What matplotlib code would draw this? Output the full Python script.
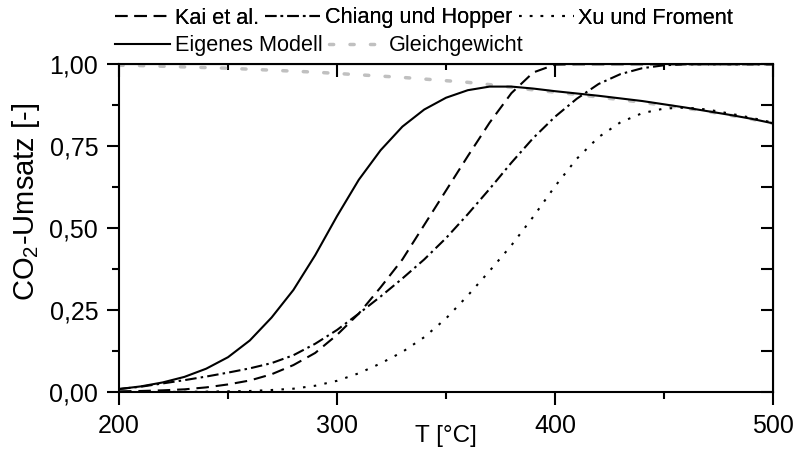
import numpy as np
import matplotlib
matplotlib.use("Agg")
import matplotlib.pyplot as plt

plt.rcParams['font.family'] = ['Liberation Sans', 'DejaVu Sans']
plt.rcParams['mathtext.fontset'] = 'custom'
plt.rcParams['mathtext.rm'] = 'Liberation Sans'

# data (T in degC, conversion 0..1)
T = [200, 210, 220, 230, 240, 250, 260, 270, 280, 290, 300, 310, 320, 330, 340,
     350, 360, 370, 380, 390, 400, 410, 420, 430, 440, 450, 460, 470, 480, 490, 500]

kai = [0.003, 0.004, 0.006, 0.009, 0.015, 0.024, 0.036, 0.055, 0.083, 0.12, 0.175,
       0.24, 0.32, 0.405, 0.51, 0.615, 0.72, 0.822, 0.912, 0.975, 0.999, 1.0, 1.0,
       1.0, 1.0, 1.0, 1.0, 1.0, 1.0, 1.0, 1.0]
chiang = [0.01, 0.017, 0.027, 0.037, 0.048, 0.06, 0.073, 0.089, 0.113, 0.148, 0.19,
          0.24, 0.292, 0.347, 0.405, 0.47, 0.543, 0.62, 0.70, 0.775, 0.84, 0.895,
          0.94, 0.97, 0.988, 0.997, 1.0, 1.0, 1.0, 1.0, 1.0]
xu = [0.0, 0.0005, 0.001, 0.0015, 0.002, 0.003, 0.004, 0.007, 0.011, 0.02, 0.035,
      0.058, 0.088, 0.123, 0.168, 0.225, 0.295, 0.37, 0.448, 0.535, 0.628, 0.712,
      0.778, 0.823, 0.851, 0.865, 0.868, 0.862, 0.85, 0.837, 0.822]
eigen = [0.01, 0.018, 0.03, 0.047, 0.072, 0.107, 0.158, 0.228, 0.312, 0.418, 0.537,
         0.648, 0.738, 0.81, 0.862, 0.898, 0.921, 0.932, 0.932, 0.926, 0.918, 0.911,
         0.904, 0.896, 0.888, 0.878, 0.868, 0.857, 0.846, 0.834, 0.82]
gleich = [0.997, 0.996, 0.994, 0.992, 0.99, 0.988, 0.985, 0.982, 0.979, 0.976, 0.972,
          0.968, 0.964, 0.96, 0.955, 0.95, 0.945, 0.938, 0.93, 0.922, 0.915, 0.908,
          0.9, 0.892, 0.884, 0.875, 0.866, 0.856, 0.845, 0.833, 0.82]

xticks = [200, 300, 400, 500]
xticklabels = ['200', '300', '400', '500']
yticks = [0.0, 0.25, 0.5, 0.75, 1.0]
yticklabels = ['0,00', '0,25', '0,50', '0,75', '1,00']

fig = plt.figure(figsize=(7.96, 4.54), dpi=100)
ax = fig.add_axes([0.1495, 0.1359, 0.8216, 0.7225])

gl, = ax.plot(T, gleich, color='#c0c0c0', lw=2.5, linestyle=(0, (1.2, 4.7)),
              dash_capstyle='round', label='Gleichgewicht')
k, = ax.plot(T, kai, color='black', lw=1.5, linestyle=(0, (6, 3.3)), label='Kai et al.')
c, = ax.plot(T, chiang, color='black', lw=1.5, linestyle=(0, (5.5, 2, 1.2, 2)),
             label='Chiang und Hopper')
x, = ax.plot(T, xu, color='black', lw=1.5, linestyle=(0, (1.2, 4)), label='Xu und Froment')
e, = ax.plot(T, eigen, color='black', lw=1.5, label='Eigenes Modell')

ax.set_xlim(200, 500)
ax.set_ylim(0, 1)
ax.set_xticks(xticks)
ax.set_xticklabels(xticklabels)
ax.set_xticks([250, 350, 450], minor=True)
ax.set_yticks(yticks)
ax.set_yticklabels(yticklabels)
ax.set_yticks([0.125, 0.375, 0.625, 0.875], minor=True)
ax.tick_params(which='major', direction='out', length=9, width=1.5, labelsize=18, pad=6)
ax.tick_params(which='minor', direction='out', length=5, width=1.5)
ax.tick_params(axis='x', which='major', pad=6.5)
for s in ax.spines.values():
    s.set_linewidth(1.5)

# mirrored ticks pointing inward
top = ax.secondary_xaxis('top')
top.set_xticks(xticks)
top.set_xticks([250, 350, 450], minor=True)
top.tick_params(which='major', direction='in', length=9, width=1.5, labeltop=False)
top.tick_params(which='minor', direction='in', length=4.5, width=1.5)
right = ax.secondary_yaxis('right')
right.set_yticks(yticks)
right.set_yticks([0.125, 0.375, 0.625, 0.875], minor=True)
right.tick_params(which='both', direction='in', length=9, width=1.5, labelright=False)

ax.set_xlabel('T [°C]', fontsize=17.5)
ax.xaxis.set_label_coords(0.5, -0.101)
ax.set_ylabel('CO$_\\mathregular{2}$-Umsatz [-]', fontsize=21)
ax.yaxis.label.set_va('center')
ax.yaxis.set_label_coords(-0.142, 0.58)

legfont = {'size': 15.6}
leg1 = fig.legend([k, c, x], ['Kai et al.', 'Chiang und Hopper', 'Xu und Froment'],
                  loc='center left', bbox_to_anchor=(115 / 796, 1 - 18 / 454),
                  ncol=3, frameon=False, prop=legfont, handlelength=2.55,
                  handletextpad=0.2, columnspacing=0.3, borderpad=0, borderaxespad=0)
leg2 = fig.legend([e, gl], ['Eigenes Modell', 'Gleichgewicht'],
                  loc='center left', bbox_to_anchor=(115 / 796, 1 - 46 / 454),
                  ncol=2, frameon=False, prop=legfont, handlelength=2.55,
                  handletextpad=0.2, columnspacing=0.3, borderpad=0, borderaxespad=0)
fig.add_artist(leg1)

fig.savefig('out.png', dpi=100)
